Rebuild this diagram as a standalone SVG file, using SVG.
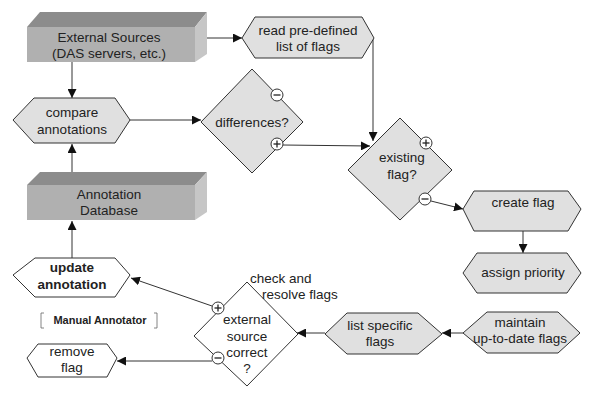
<svg xmlns="http://www.w3.org/2000/svg" width="600" height="400" viewBox="0 0 600 400">
<defs>
<style>
text{font-family:"Liberation Sans",Arial,sans-serif;font-size:13.5px;fill:#222;text-anchor:middle}
.hex,.dia{fill:#e0e0e0;stroke:#333;stroke-width:1}
.wdia,.whex{fill:#fff;stroke:#333;stroke-width:1}
.front{fill:#b0b0b0}
.top{fill:#8c8c8c}
.side{fill:#c6c6c6}
.edge{fill:none;stroke:#333;stroke-width:1}
.sign{fill:#fff;stroke:#333;stroke-width:1}
.sgn{stroke:#222;stroke-width:1.3}
.b{font-weight:bold}
</style>
<marker id="ah" viewBox="0 0 10 10" refX="10" refY="5" markerWidth="9" markerHeight="9" markerUnits="userSpaceOnUse" orient="auto">
<path d="M0,0 L10,5 L0,10 z" fill="#111"/>
</marker>
</defs>
<rect width="600" height="400" fill="#fff"/>

<g id="connectors" class="edge" marker-end="url(#ah)">
<line x1="72" y1="62" x2="72" y2="98"/>
<line x1="200" y1="38" x2="242" y2="38"/>
<line x1="130" y1="120" x2="201" y2="120"/>
<line x1="72" y1="172" x2="72" y2="144"/>
<polyline points="373,38 373,141"/>
<line x1="283" y1="145" x2="370" y2="146"/>
<line x1="431" y1="201" x2="463" y2="209"/>
<line x1="523" y1="231" x2="523" y2="253"/>
<line x1="463" y1="333" x2="442" y2="333"/>
<line x1="325" y1="333" x2="297" y2="333"/>
<line x1="212" y1="306" x2="131" y2="278"/>
<line x1="72" y1="258" x2="72" y2="221"/>
<line x1="212" y1="361" x2="117" y2="361"/>
</g>

<g id="external-sources">
<polygon class="top" points="27,27 40,12 207,12 195,27"/>
<polygon class="side" points="195,27 207,12 207,54 195,62"/>
<rect class="front" x="27" y="27" width="168" height="35"/>
<text x="109" y="42">External Sources</text>
<text x="109" y="58">(DAS servers, etc.)</text>
</g>

<g id="annotation-database">
<polygon class="top" points="27,185 40,172 207,172 195,185"/>
<polygon class="side" points="195,185 207,172 207,212 195,220"/>
<rect class="front" x="27" y="185" width="168" height="35"/>
<text x="109" y="199">Annotation</text>
<text x="109" y="215">Database</text>
</g>

<g id="compare-annotations">
<polygon class="hex" points="13,120 34,98 115,98 130,120 115,143 34,143"/>
<text x="72" y="117">compare</text>
<text x="72" y="134">annotations</text>
</g>

<g id="read-flags">
<polygon class="hex" points="242,38 255,17 362,17 374,38 362,58 255,58"/>
<text x="308" y="35">read pre-defined</text>
<text x="308" y="51">list of flags</text>
</g>

<g id="differences">
<polygon class="dia" points="252,69 303,122 252,173 201,122"/>
<text x="252" y="127">differences?</text>
<circle class="sign" cx="277" cy="95" r="6"/>
<line class="sgn" x1="273.5" y1="95" x2="280.5" y2="95"/>
<circle class="sign" cx="277" cy="144" r="6"/>
<line class="sgn" x1="273.5" y1="144" x2="280.5" y2="144"/>
<line class="sgn" x1="277" y1="140.5" x2="277" y2="147.5"/>
</g>

<g id="existing-flag">
<polygon class="dia" points="400,118 452,170 400,220 348,170"/>
<text x="402" y="162">existing</text>
<text x="402" y="179">flag?</text>
<circle class="sign" cx="426" cy="143" r="6"/>
<line class="sgn" x1="422.5" y1="143" x2="429.5" y2="143"/>
<line class="sgn" x1="426" y1="139.5" x2="426" y2="146.5"/>
<circle class="sign" cx="425" cy="199" r="6"/>
<line class="sgn" x1="421.5" y1="199" x2="428.5" y2="199"/>
</g>

<g id="create-flag">
<polygon class="hex" points="463,209 474,191 568,191 581,209 568,231 474,231"/>
<text x="523" y="207">create flag</text>
</g>

<g id="assign-priority">
<polygon class="hex" points="463,273 477,253 567,253 581,273 567,293 477,293"/>
<text x="523" y="277">assign priority</text>
</g>

<g id="maintain-flags">
<polygon class="hex" points="463,333 487,312 558,312 580,333 558,353 487,353"/>
<text x="520" y="327">maintain</text>
<text x="520" y="343">up-to-date flags</text>
</g>

<g id="list-specific-flags">
<polygon class="hex" points="325,334 347,313 418,313 442,334 418,354 347,354"/>
<text x="380" y="330">list specific</text>
<text x="380" y="346">flags</text>
</g>

<g id="external-source-correct">
<polygon class="wdia" points="247,282 298,334 247,386 194,336"/>
<text x="247" y="324">external</text>
<text x="247" y="341">source</text>
<text x="247" y="357">correct</text>
<text x="247" y="373">?</text>
<text x="250" y="283" style="text-anchor:start">check and</text>
<text x="262" y="299" style="text-anchor:start">resolve flags</text>
<circle class="sign" cx="218" cy="308" r="6"/>
<line class="sgn" x1="214.5" y1="308" x2="221.5" y2="308"/>
<line class="sgn" x1="218" y1="304.5" x2="218" y2="311.5"/>
<circle class="sign" cx="218" cy="358" r="6"/>
<line class="sgn" x1="214.5" y1="358" x2="221.5" y2="358"/>
</g>

<g id="update-annotation">
<polygon class="whex" points="13,275 35,258 115,258 130,275 115,297 35,297"/>
<text class="b" x="72" y="272">update</text>
<text class="b" x="72" y="289">annotation</text>
</g>

<g id="manual-annotator">
<path d="M44,313 L41,313 L41,328 L44,328 M154,313 L157,313 L157,328 L154,328" fill="none" stroke="#666" stroke-width="0.8"/>
<text class="b" x="100" y="324" style="font-size:11px">Manual Annotator</text>
</g>

<g id="remove-flag">
<polygon class="whex" points="27,358 38,344 107,344 117,358 107,377 38,377"/>
<text x="72" y="356">remove</text>
<text x="72" y="372">flag</text>
</g>
</svg>
